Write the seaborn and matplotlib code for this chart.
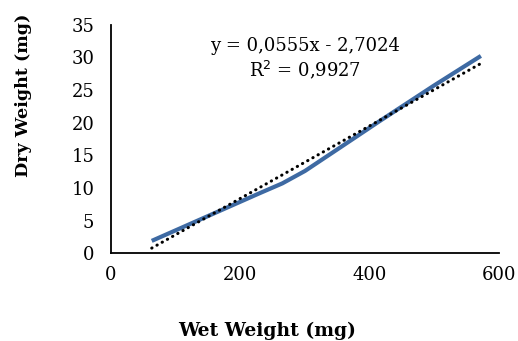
import numpy as np
import pandas as pd
import matplotlib
matplotlib.use("Agg")
import matplotlib.pyplot as plt
import seaborn as sns

# values
wet_weight = [63, 150, 230, 265, 300, 350, 415, 500, 572]
dry_weight = [1.9, 5.7, 9.2, 10.7, 12.6, 15.9, 20.2, 25.7, 30.2]

# linear trendline as printed on the chart
slope = 0.0555
intercept = -2.7024
r_squared = 0.9927

x_ticks = [0, 200, 400, 600]
y_ticks = [0, 5, 10, 15, 20, 25, 30, 35]

sns.set_theme(style="white")
plt.rcParams['font.family'] = ['DejaVu Serif']
plt.rcParams['font.size'] = 13
plt.rcParams['text.color'] = 'black'

df = pd.DataFrame({'wet': wet_weight, 'dry': dry_weight})
trend = pd.DataFrame({'wet': [min(wet_weight), max(wet_weight)]})
trend['dry'] = slope * trend['wet'] + intercept

fig = plt.figure(figsize=(5.18, 3.41), dpi=100)
ax = fig.add_axes([0.2143, 0.2572, 0.749, 0.6708])

sns.lineplot(data=df, x='wet', y='dry', ax=ax, color='#3E6AA3', lw=3.0,
             sort=False, solid_capstyle='butt', solid_joinstyle='round')
sns.lineplot(data=trend, x='wet', y='dry', ax=ax, color='black', lw=2.2,
             linestyle=(0, (0.1, 1.85)), dash_capstyle='round')

ax.set_xlim(0, 600)
ax.set_ylim(0, 35)
ax.set_xticks(x_ticks)
ax.set_yticks(y_ticks)
ax.tick_params(axis='both', length=0, labelsize=13, colors='black')
ax.tick_params(axis='x', pad=9)
ax.tick_params(axis='y', pad=12)
ax.set_xlabel('')
ax.set_ylabel('')
for side in ['top', 'right']:
    ax.spines[side].set_visible(False)
for side in ['left', 'bottom']:
    ax.spines[side].set_color('black')
    ax.spines[side].set_linewidth(1.3)

eq = f"y = {slope:.4f}x - {abs(intercept):.4f}".replace('.', ',')
r2 = f"R$^2$ = {r_squared:.4f}".replace('.', ',')
ax.text(300, 31.7, eq, ha='center', va='center', fontsize=13, color='black')
ax.text(300, 28.0, r2, ha='center', va='center', fontsize=13, color='black')

fig.text(267 / 518, 1 - 331 / 341, 'Wet Weight (mg)', ha='center',
         va='center', fontsize=13.5, fontweight='bold', color='black')
fig.text(24 / 518, 1 - 95 / 341, 'Dry Weight (mg)', ha='center',
         va='center', rotation=90, fontsize=12.6, fontweight='bold',
         color='black')

fig.savefig('out.png', dpi=100)
